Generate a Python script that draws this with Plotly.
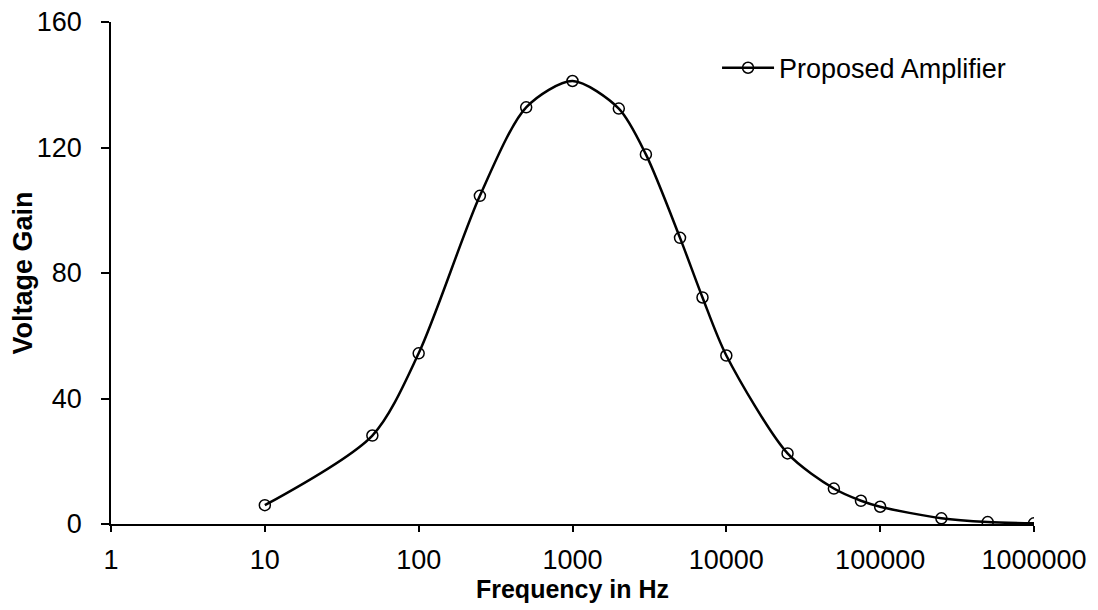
import plotly.graph_objects as go

freq = [10, 50, 100, 250, 500, 1000, 2000, 3000, 5000, 7000, 10000,
        25000, 50000, 75000, 100000, 250000, 500000, 1000000]
gain = [6.0, 28.2, 54.4, 104.6, 132.8, 141.2, 132.4, 117.8, 91.2, 72.2, 53.7,
        22.5, 11.3, 7.4, 5.5, 1.8, 0.6, 0.2]
x_ticks = [1, 10, 100, 1000, 10000, 100000, 1000000]
x_ticklabels = ["1", "10", "100", "1000", "10000", "100000", "1000000"]
y_ticks = [0, 40, 80, 120, 160]

FONT = "Liberation Sans, Arial, sans-serif"

fig = go.Figure()
fig.add_trace(go.Scatter(
    x=freq, y=gain, mode="lines+markers", name="Proposed Amplifier",
    line=dict(color="black", width=2.5, shape="spline", smoothing=0.8),
    marker=dict(symbol="circle-open", size=11, color="black", line=dict(width=1.5)),
))

fig.update_layout(
    width=1098, height=610,
    margin=dict(l=103, r=72, t=14, b=94),
    paper_bgcolor="white", plot_bgcolor="white",
    font=dict(family=FONT, size=27, color="black"),
    showlegend=True,
    legend=dict(x=0.6566, y=0.908, xanchor="left", yanchor="middle",
                bgcolor="rgba(0,0,0,0)", font=dict(size=27), itemwidth=52),
    xaxis=dict(
        type="log", range=[0, 6], tickvals=x_ticks, ticktext=x_ticklabels,
        showline=True, linecolor="black", linewidth=1.5,
        ticks="outside", ticklen=6, tickcolor="black", tickwidth=1.5,
        ticklabelstandoff=5, ticklabeloverflow="allow", automargin=False,
        showgrid=False, zeroline=False,
        title=dict(text="<b>Frequency in Hz</b>", font=dict(size=25), standoff=1),
    ),
    yaxis=dict(
        range=[0, 160], tickvals=y_ticks,
        showline=True, linecolor="black", linewidth=1.5,
        ticks="outside", ticklen=8, tickcolor="black", tickwidth=1.5,
        ticklabelstandoff=14, ticklabeloverflow="allow", automargin=False,
        showgrid=False, zeroline=False,
        title=dict(text="<b>Voltage Gain</b>", font=dict(size=27), standoff=16),
    ),
)

fig.write_html("out.html")
